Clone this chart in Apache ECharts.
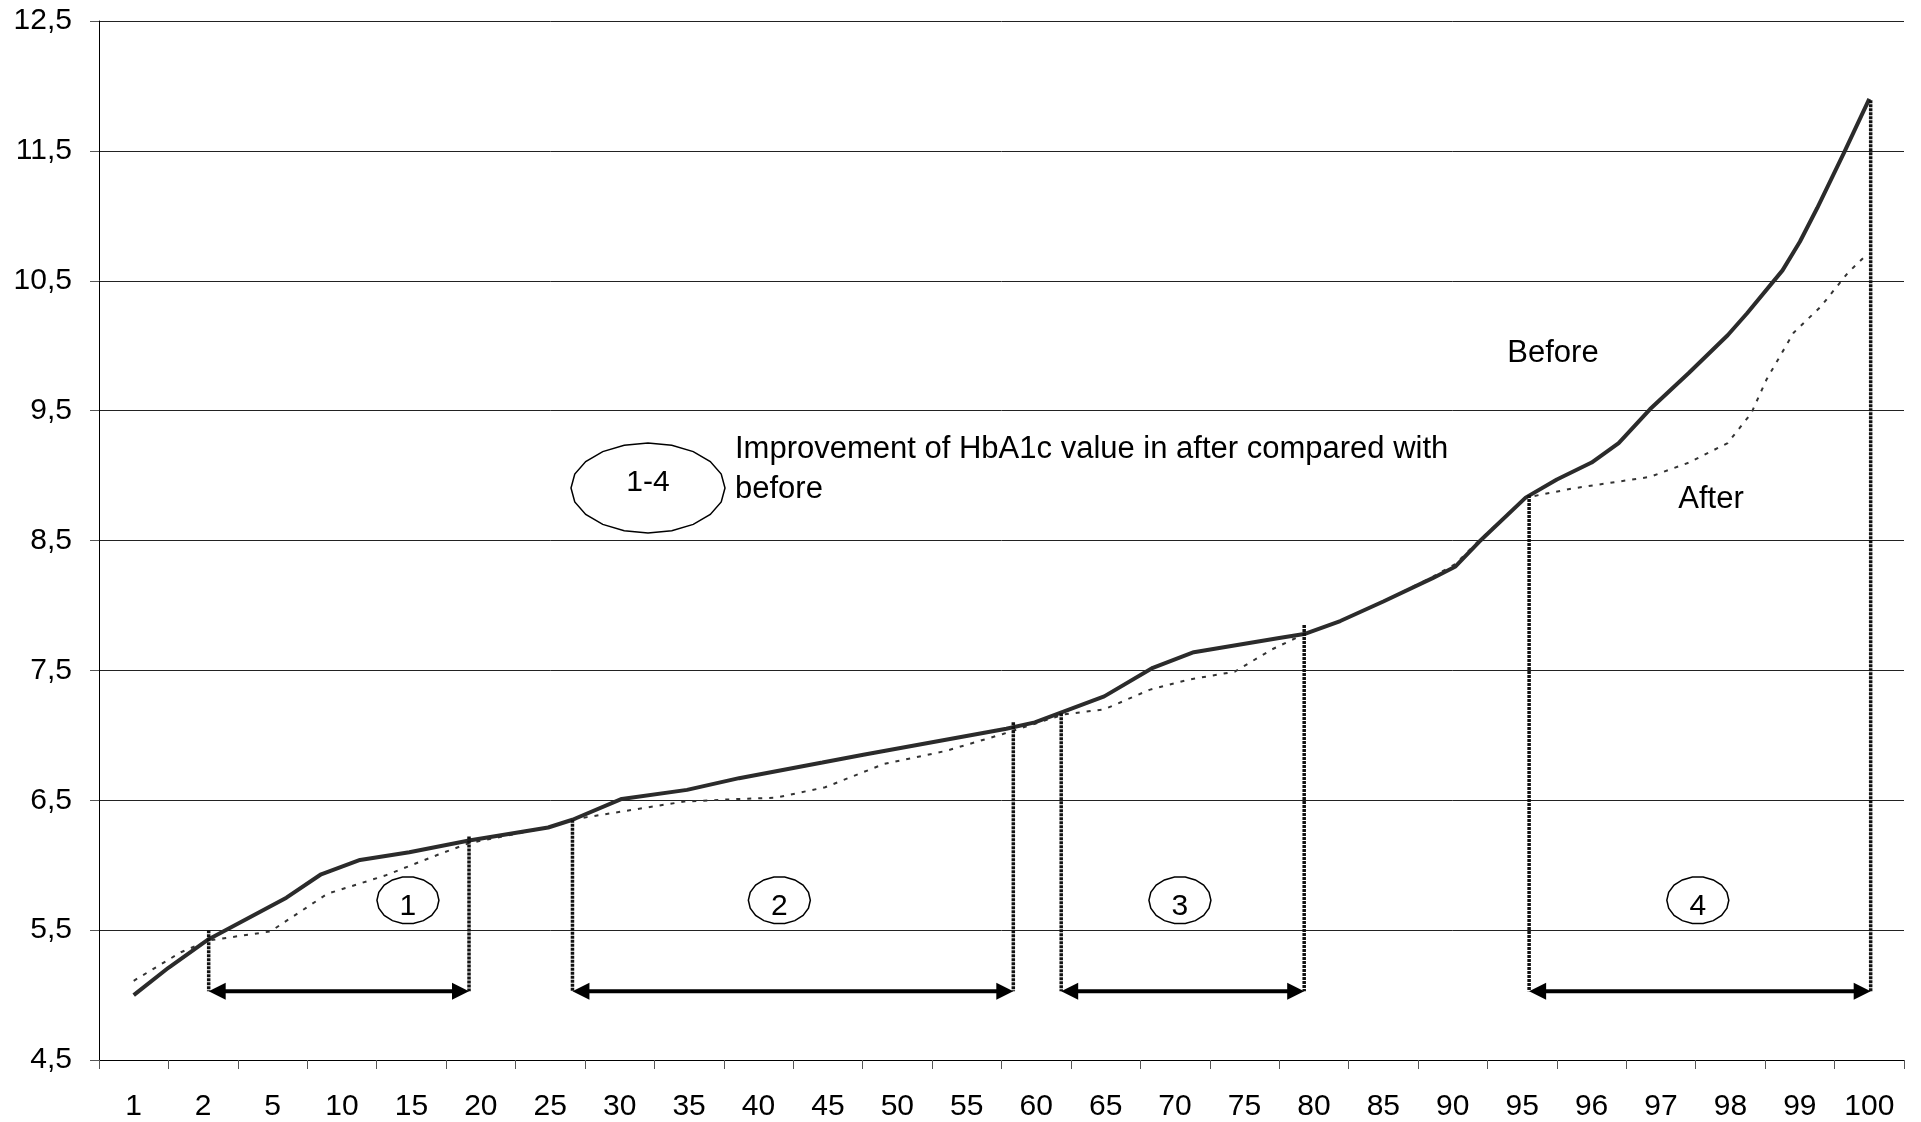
<!DOCTYPE html>
<html>
<head>
<meta charset="utf-8">
<script src="https://cdn.jsdelivr.net/npm/echarts@6/dist/echarts.min.js"></script>
<style>
html,body{margin:0;padding:0;background:#fff;overflow:hidden;width:1921px;height:1122px;}
#chart{width:1921px;height:1122px;overflow:hidden;}
</style>
</head>
<body>
<div id="chart"></div>
<script>
// x-axis category labels (percentiles)
const categories = ['1','2','5','10','15','20','25','30','35','40','45','50','55','60','65','70','75','80','85','90','95','96','97','98','99','100'];

// y-axis range / tick labels
const yMin = 4.5, yMax = 12.5, yStep = 1;

// "Before" curve: position along the category axis (in category units) and HbA1c value
const beforeX = [0.5, 1.0, 1.58, 2.7, 3.2, 3.76, 4.47, 5.33, 6.47, 6.82, 7.53, 8.47, 9.22, 10.42, 11.01, 13.07, 13.48, 14.48, 15.18, 15.77, 17.0, 17.36, 17.88, 18.5, 19.21, 19.54, 19.88, 20.55, 21.0, 21.5, 21.89, 22.34, 22.9, 23.46, 23.74, 24.25, 24.5, 24.75, 25.14, 25.5];
const beforeY = [5.00, 5.21, 5.43, 5.75, 5.93, 6.04, 6.10, 6.19, 6.29, 6.35, 6.51, 6.58, 6.67, 6.79, 6.85, 7.05, 7.10, 7.30, 7.52, 7.64, 7.75, 7.78, 7.88, 8.03, 8.21, 8.30, 8.49, 8.83, 8.97, 9.10, 9.25, 9.51, 9.79, 10.08, 10.25, 10.58, 10.80, 11.06, 11.49, 11.90];

// "After" curve
const afterX = [0.5, 1.18, 1.58, 2.47, 3.29, 4.12, 4.88, 5.33, 6.47, 6.82, 7.03, 8.43, 9.22, 9.75, 10.46, 11.31, 12.2, 13.02, 13.89, 14.48, 15.13, 15.71, 16.36, 16.89, 17.36, 17.88, 18.5, 19.21, 19.54, 19.88, 20.55, 21.22, 22.34, 22.9, 23.46, 23.8, 24.02, 24.41, 24.8, 25.19, 25.44];
const afterY = [5.11, 5.33, 5.42, 5.49, 5.78, 5.92, 6.08, 6.17, 6.29, 6.35, 6.37, 6.49, 6.51, 6.52, 6.60, 6.78, 6.88, 7.01, 7.16, 7.20, 7.35, 7.43, 7.49, 7.66, 7.78, 7.88, 8.03, 8.22, 8.32, 8.50, 8.83, 8.90, 8.99, 9.10, 9.25, 9.48, 9.74, 10.10, 10.30, 10.56, 10.69];

// improvement ranges 1-4
const rangeLabels = ['1', '2', '3', '4'];
const rangeFrom = [1.58, 6.82, 13.86, 20.6];
const rangeTo = [5.33, 13.17, 17.36, 25.52];
const rangeTopFrom = [5.5, 6.35, 7.17, 8.85];
const rangeTopTo = [6.22, 7.10, 7.85, 11.89];
const rangeLabelX = [4.45, 9.80, 15.57, 23.03];
const rangeArrowLevel = 5.03;
const rangeLabelLevel = 5.73;

const FONT = '"Liberation Sans", Arial, sans-serif';

const chart = echarts.init(document.getElementById('chart'), null, {renderer: 'canvas', width: 1921, height: 1122});

function ellipsePoints(cx, cy, rx, ry, n) {
  const pts = [];
  for (let k = 0; k < n; k++) {
    const a = 2 * Math.PI * k / n;
    pts.push([cx + rx * Math.cos(a), cy + ry * Math.sin(a)]);
  }
  return pts;
}

const rangeData = rangeLabels.map((l, i) => [rangeFrom[i], rangeTo[i], rangeTopFrom[i], rangeTopTo[i], rangeLabelX[i], i]);

const option = {
  animation: false,
  backgroundColor: '#ffffff',
  grid: {left: 99, right: 17, top: 21, bottom: 61, containLabel: false},
  xAxis: [
    {
      type: 'category',
      data: categories,
      boundaryGap: true,
      axisLine: {show: true, lineStyle: {color: '#000', width: 1}},
      axisTick: {show: true, length: 9, lineStyle: {color: '#555', width: 1}},
      axisLabel: {color: '#000', fontSize: 30, fontFamily: FONT, margin: 32, interval: 0},
      splitLine: {show: false}
    },
    {
      type: 'value',
      min: 0,
      max: categories.length,
      show: false,
      splitLine: {show: false}
    }
  ],
  yAxis: {
    type: 'value',
    min: yMin,
    max: yMax,
    interval: yStep,
    axisLine: {show: true, lineStyle: {color: '#000', width: 1}},
    axisTick: {show: true, length: 9, lineStyle: {color: '#555', width: 1}},
    axisLabel: {
      color: '#000', fontSize: 30, fontFamily: FONT, margin: 27,
      formatter: v => v.toFixed(1).replace('.', ',')
    },
    splitLine: {show: true, lineStyle: {color: '#222', width: 1}}
  },
  series: [
    {
      name: 'After',
      type: 'line',
      xAxisIndex: 1,
      data: afterX.map((x, i) => [x, afterY[i]]),
      symbol: 'none',
      smooth: false,
      lineStyle: {color: '#333', width: 2, type: [4, 7]},
      z: 3
    },
    {
      name: 'Before',
      type: 'line',
      xAxisIndex: 1,
      data: beforeX.map((x, i) => [x, beforeY[i]]),
      symbol: 'none',
      smooth: false,
      lineStyle: {color: '#2b2b2b', width: 4},
      z: 4
    },
    {
      name: 'ranges',
      type: 'custom',
      xAxisIndex: 1,
      clip: false,
      z: 5,
      data: rangeData,
      renderItem: function (params, api) {
        const x0 = api.value(0), x1 = api.value(1);
        const t0 = api.value(2), t1 = api.value(3);
        const lx = api.value(4), idx = api.value(5);
        const a0 = api.coord([x0, t0]);
        const b0 = api.coord([x0, rangeArrowLevel]);
        const a1 = api.coord([x1, t1]);
        const b1 = api.coord([x1, rangeArrowLevel]);
        const lc = api.coord([lx, rangeLabelLevel]);
        const head = 17, half = 8.5;
        const y = b0[1];
        const vStyle = {stroke: '#111', lineWidth: 3.5, lineDash: [3, 1]};
        return {
          type: 'group',
          children: [
            {type: 'line', shape: {x1: a0[0], y1: a0[1], x2: b0[0], y2: b0[1]}, style: vStyle},
            {type: 'line', shape: {x1: a1[0], y1: a1[1], x2: b1[0], y2: b1[1]}, style: vStyle},
            {type: 'line', shape: {x1: b0[0] + head - 2, y1: y, x2: b1[0] - head + 2, y2: y}, style: {stroke: '#000', lineWidth: 4}},
            {type: 'polygon', shape: {points: [[b0[0], y], [b0[0] + head, y - half], [b0[0] + head, y + half]]}, style: {fill: '#000'}},
            {type: 'polygon', shape: {points: [[b1[0], y], [b1[0] - head, y - half], [b1[0] - head, y + half]]}, style: {fill: '#000'}},
            {type: 'polygon', shape: {points: ellipsePoints(lc[0], lc[1], 31, 23.5, 18)}, style: {fill: 'none', stroke: '#000', lineWidth: 1.5}},
            {type: 'text', x: lc[0], y: lc[1] + 6, style: {text: rangeLabels[idx], font: '30px ' + FONT, fill: '#000', align: 'center', verticalAlign: 'middle'}}
          ]
        };
      }
    }
  ],
  graphic: [
    {type: 'polygon', shape: {points: ellipsePoints(648, 488, 77, 45, 20)}, style: {fill: 'none', stroke: '#000', lineWidth: 1.5}},
    {type: 'text', x: 648, y: 483, style: {text: '1-4', font: '30px ' + FONT, fill: '#000', align: 'center', verticalAlign: 'middle'}},
    {type: 'text', x: 735, y: 449, style: {text: 'Improvement of HbA1c value in after compared with', font: '31px ' + FONT, fill: '#000', align: 'left', verticalAlign: 'middle'}},
    {type: 'text', x: 735, y: 489, style: {text: 'before', font: '31px ' + FONT, fill: '#000', align: 'left', verticalAlign: 'middle'}},
    {type: 'text', x: 1553, y: 353, style: {text: 'Before', font: '31px ' + FONT, fill: '#000', align: 'center', verticalAlign: 'middle'}},
    {type: 'text', x: 1711, y: 499, style: {text: 'After', font: '31px ' + FONT, fill: '#000', align: 'center', verticalAlign: 'middle'}}
  ]
};

chart.setOption(option);
</script>
</body>
</html>
